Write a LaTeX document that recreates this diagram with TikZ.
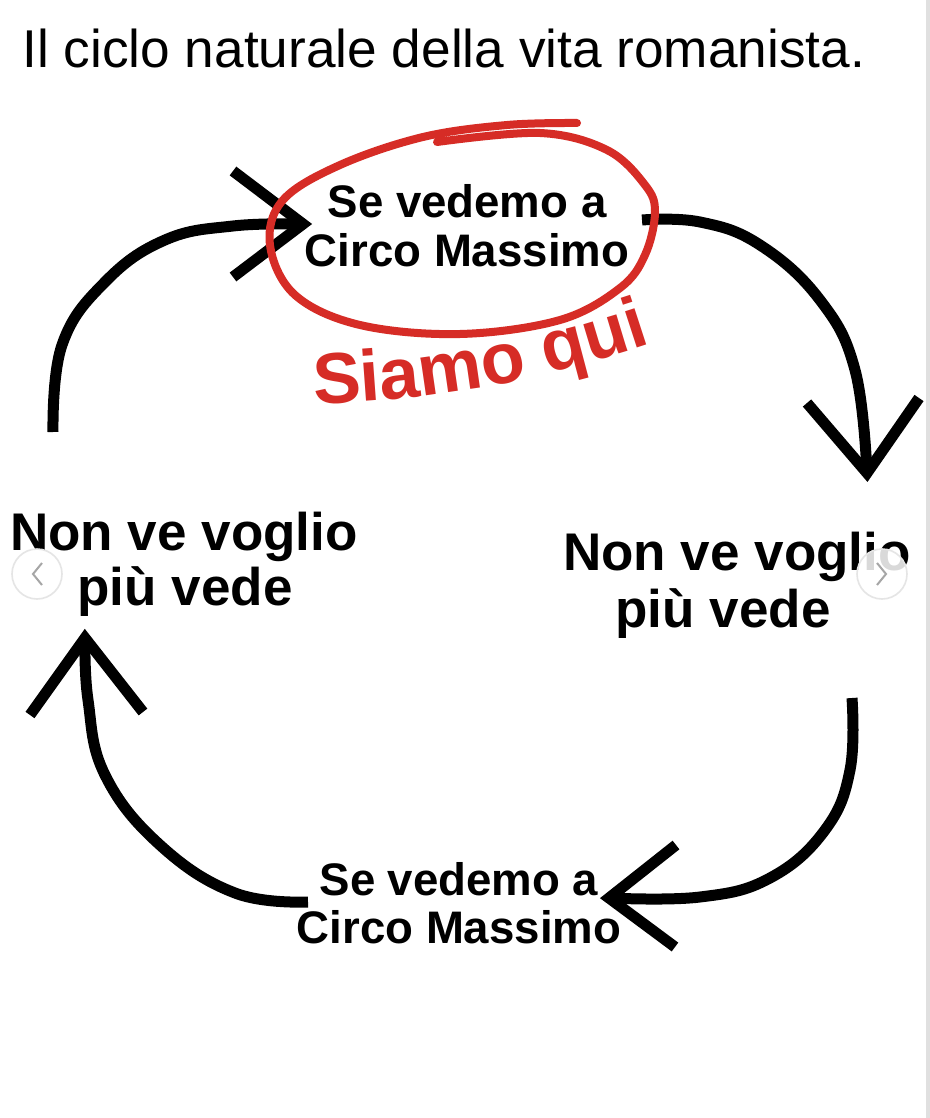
\documentclass[tikz,border=0pt]{standalone}
\usepackage{fontspec}
\setmainfont{Liberation Sans}
\usetikzlibrary{decorations.text}
\definecolor{siamored}{RGB}{214,44,38}

\begin{document}
\begin{tikzpicture}[x=0.5pt,y=-0.5pt,
	curva/.style={line width=5.5pt,line cap=butt},
	punta/.style={line width=5.5pt,line cap=butt,line join=miter},
	lbl/.style={font=\fontsize{22.8}{24}\selectfont\bfseries,anchor=base,inner sep=0pt},
	lblbig/.style={font=\fontsize{26.5}{28}\selectfont\bfseries,anchor=base,inner sep=0pt},
	pallino/.style={circle,fill=white,fill opacity=0.85,draw=black!10,line width=0.8pt,minimum size=25pt,inner sep=0pt}]
			\useasboundingbox (0,0) rectangle (930,1118);
			\fill[white] (0,0) rectangle (930,1118);
			\fill[black!12] (926,0) rectangle (930,1118);

			\node[font=\fontsize{26.6}{30}\selectfont,anchor=base west,inner sep=0pt] (titolo) at (22,68) {Il ciclo naturale della vita romanista.};

			\node[lbl] (S1) at (467,218) {Se vedemo a};
			\node[lbl] (S2) at (467,266) {Circo Massimo};
			\node[lblbig] (L1) at (184,550) {Non ve voglio};
			\node[lblbig] (L2) at (185,605) {più vede};
			\node[lblbig] (R1) at (737,570) {Non ve voglio};
			\node[lblbig] (R2) at (723,627) {più vede};
			\node[lbl] (B1) at (459,895) {Se vedemo a};
			\node[lbl] (B2) at (459,943) {Circo Massimo};

			\coordinate (A1) at (53,432);
			\coordinate (A2) at (62,345);
			\coordinate (A3) at (105,282);
			\coordinate (A4) at (165,240);
			\coordinate (A5) at (233,226);
			\coordinate (A) at (303,224);
			\coordinate (Al) at (233,171);
			\coordinate (Ar) at (233,277);

			\coordinate (B1) at (642,220);
			\coordinate (B2) at (700,222);
			\coordinate (B3) at (760,245);
			\coordinate (B4) at (820,300);
			\coordinate (B5) at (855,370);
			\coordinate (B) at (867,473);
			\coordinate (Bl) at (807,403);
			\coordinate (Br) at (919,398);

			\coordinate (C1) at (852,698);
			\coordinate (C2) at (850,770);
			\coordinate (C3) at (825,830);
			\coordinate (C4) at (770,878);
			\coordinate (C5) at (700,897);
			\coordinate (C) at (609,898);
			\coordinate (Cl) at (676,845);
			\coordinate (Cr) at (675,947);

			\coordinate (D1) at (308,902);
			\coordinate (D2) at (235,893);
			\coordinate (D3) at (160,845);
			\coordinate (D4) at (105,775);
			\coordinate (D5) at (88,700);
			\coordinate (D) at (85,638);
			\coordinate (Dl) at (30,715);
			\coordinate (Dr) at (143,712);

			\draw[curva] plot [smooth, tension=0.7] coordinates { (A1) (A2) (A3) (A4) (A5) (A) };
			\draw[punta] (Al)--(A)--(Ar);
			\draw[curva] plot [smooth, tension=0.7] coordinates { (B1) (B2) (B3) (B4) (B5) (B) };
			\draw[punta] (Bl)--(B)--(Br);
			\draw[curva] plot [smooth, tension=0.7] coordinates { (C1) (C2) (C3) (C4) (C5) (C) };
			\draw[punta] (Cl)--(C)--(Cr);
			\draw[curva] plot [smooth, tension=0.7] coordinates { (D1) (D2) (D3) (D4) (D5) (D) };
			\draw[punta] (Dl)--(D)--(Dr);

			\draw[siamored,line width=4pt,line cap=round]
			plot [smooth, tension=0.6]
			coordinates { (437,142) (540,133) (607,150) (645,185) (655,212) (645,255) (620,288) (560,320) (460,334) (360,325) (295,295) (270,245) (283,200) (340,165) (423,137) (507,125) (577,123) };

			\path[
				decorate,
				decoration={
					text along path,
					text color=siamored,
					text={|\fontsize{36}{40}\selectfont\bfseries\color{siamored}|Siamo qui},
					text align=left,
				}
			]
			(314,404) .. controls (430,399) and (520,388) .. (662,340);

			\node[pallino] (prev) at (37,574) {};
			\draw[black!35,line width=1pt] ([shift={(5,-11)}]prev.center)--([shift={(-4,0)}]prev.center)--([shift={(5,11)}]prev.center);
			\node[pallino] (next) at (882,574) {};
			\draw[black!35,line width=1pt] ([shift={(-5,-11)}]next.center)--([shift={(4,0)}]next.center)--([shift={(-5,11)}]next.center);
		\end{tikzpicture}
\end{document}
